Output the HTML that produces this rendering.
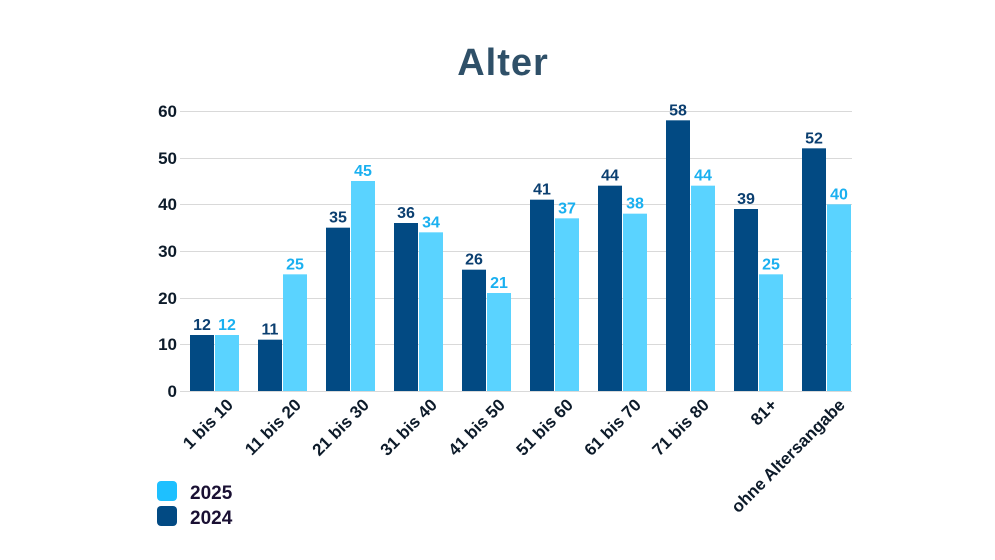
<!DOCTYPE html>
<html><head><meta charset="utf-8"><style>body{margin:0;background:#fff}svg{display:block}text{font-family:"Liberation Sans",sans-serif;font-weight:bold}</style></head><body>
<svg width="995" height="560" xmlns="http://www.w3.org/2000/svg">
<text x="503" y="75" text-anchor="middle" font-size="38" letter-spacing="1" fill="#2f5068">Alter</text>
<g stroke="#d9d9d9" stroke-width="1">
<line x1="180" x2="852" y1="111.5" y2="111.5"/><line x1="180" x2="852" y1="158.5" y2="158.5"/><line x1="180" x2="852" y1="204.5" y2="204.5"/><line x1="180" x2="852" y1="251.5" y2="251.5"/><line x1="180" x2="852" y1="298.5" y2="298.5"/><line x1="180" x2="852" y1="344.5" y2="344.5"/><line x1="180" x2="852" y1="391.5" y2="391.5"/>
</g>
<g font-size="17" fill="#0d1b2a" text-anchor="end">
<text x="177" y="117">60</text><text x="177" y="164">50</text><text x="177" y="210">40</text><text x="177" y="257">30</text><text x="177" y="304">20</text><text x="177" y="350">10</text><text x="177" y="397">0</text>
</g>
<g fill="#024a83">
<rect x="190" y="335" width="24" height="56"/>
<rect x="258" y="339.67" width="24" height="51.33"/>
<rect x="326" y="227.67" width="24" height="163.33"/>
<rect x="394" y="223" width="24" height="168"/>
<rect x="462" y="269.67" width="24" height="121.33"/>
<rect x="530" y="199.67" width="24" height="191.33"/>
<rect x="598" y="185.67" width="24" height="205.33"/>
<rect x="666" y="120.33" width="24" height="270.67"/>
<rect x="734" y="209" width="24" height="182"/>
<rect x="802" y="148.33" width="24" height="242.67"/>
</g>
<g fill="#5ad3ff">
<rect x="215" y="335" width="24" height="56"/>
<rect x="283" y="274.33" width="24" height="116.67"/>
<rect x="351" y="181" width="24" height="210"/>
<rect x="419" y="232.33" width="24" height="158.67"/>
<rect x="487" y="293" width="24" height="98"/>
<rect x="555" y="218.33" width="24" height="172.67"/>
<rect x="623" y="213.67" width="24" height="177.33"/>
<rect x="691" y="185.67" width="24" height="205.33"/>
<rect x="759" y="274.33" width="24" height="116.67"/>
<rect x="827" y="204.33" width="24" height="186.67"/>
</g>
<g font-size="16" fill="#0b3f70" text-anchor="middle">
<text x="202" y="330">12</text><text x="270" y="334.7">11</text><text x="338" y="222.7">35</text><text x="406" y="218">36</text><text x="474" y="264.7">26</text><text x="542" y="194.7">41</text><text x="610" y="180.7">44</text><text x="678" y="115.3">58</text><text x="746" y="204">39</text><text x="814" y="143.3">52</text>
</g>
<g font-size="16" fill="#1ab0f0" text-anchor="middle">
<text x="227" y="330">12</text><text x="295" y="269.3">25</text><text x="363" y="176">45</text><text x="431" y="227.3">34</text><text x="499" y="288">21</text><text x="567" y="213.3">37</text><text x="635" y="208.7">38</text><text x="703" y="180.7">44</text><text x="771" y="269.3">25</text><text x="839" y="199.3">40</text>
</g>
<g font-size="17" fill="#0d1b2a" text-anchor="end">
<text transform="translate(234,406) rotate(-45)">1 bis 10</text>
<text transform="translate(302,406) rotate(-45)">11 bis 20</text>
<text transform="translate(370,406) rotate(-45)">21 bis 30</text>
<text transform="translate(438,406) rotate(-45)">31 bis 40</text>
<text transform="translate(506,406) rotate(-45)">41 bis 50</text>
<text transform="translate(574,406) rotate(-45)">51 bis 60</text>
<text transform="translate(642,406) rotate(-45)">61 bis 70</text>
<text transform="translate(710,406) rotate(-45)">71 bis 80</text>
<text transform="translate(778,406) rotate(-45)">81+</text>
<text transform="translate(846,406) rotate(-45)">ohne Altersangabe</text>
</g>
<rect x="157" y="481" width="20" height="20" rx="4" fill="#1ec0ff"/>
<text x="190" y="499" font-size="19" fill="#1a1033">2025</text>
<rect x="157" y="506" width="20" height="20" rx="4" fill="#024a83"/>
<text x="190" y="524" font-size="19" fill="#1a1033">2024</text>
</svg>
</body></html>
